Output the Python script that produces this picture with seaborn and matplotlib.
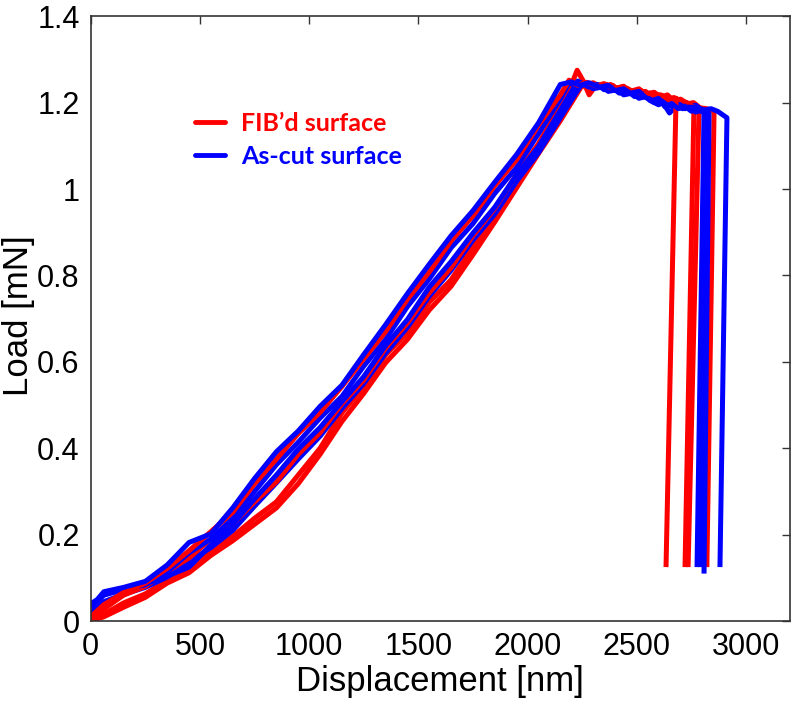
import numpy as np
import pandas as pd
import matplotlib
matplotlib.use("Agg")
import matplotlib.pyplot as plt
import seaborn as sns
from matplotlib.lines import Line2D
from matplotlib.ticker import FormatStrFormatter

# load-displacement curves (displacement in nm, load in mN)
fib_a_x = [0, 60, 150, 250, 350, 450, 550, 650, 750, 850, 950, 1050, 1150, 1250, 1350, 1450, 1550, 1650, 1750, 1850, 1950, 2050, 2150, 2190,
           2230, 2270, 2320, 2360, 2390, 2430, 2460, 2500, 2530, 2560, 2590, 2620, 2650, 2680, 2634]
fib_a_y = [0.01, 0.038, 0.066, 0.088, 0.122, 0.163, 0.207, 0.252, 0.318, 0.375, 0.434, 0.483, 0.543, 0.607, 0.67, 0.745, 0.808, 0.88, 0.938, 1.008, 1.068, 1.148, 1.218, 1.252,
           1.24, 1.247, 1.238, 1.242, 1.232, 1.236, 1.226, 1.228, 1.218, 1.222, 1.212, 1.216, 1.205, 1.21, 0.125]

fib_b_x = [0, 60, 150, 250, 350, 450, 550, 650, 750, 850, 950, 1050, 1150, 1250, 1350, 1450, 1550, 1650, 1750, 1850, 1950, 2050, 2150, 2200, 2227,
           2255, 2282, 2310, 2350, 2400, 2440, 2470, 2510, 2540, 2580, 2610, 2640, 2670, 2700, 2740, 2762, 2721]
fib_b_y = [0.005, 0.028, 0.06, 0.08, 0.115, 0.146, 0.19, 0.225, 0.276, 0.322, 0.386, 0.436, 0.503, 0.558, 0.632, 0.69, 0.76, 0.818, 0.892, 0.955, 1.034, 1.105, 1.192, 1.24, 1.275,
           1.25, 1.218, 1.238, 1.244, 1.232, 1.238, 1.226, 1.232, 1.22, 1.224, 1.212, 1.218, 1.204, 1.208, 1.196, 1.19, 0.125]

fib_c_x = [0, 60, 150, 250, 350, 450, 550, 650, 750, 850, 950, 1050, 1150, 1250, 1350, 1450, 1550, 1650, 1750, 1850, 1950, 2050, 2150, 2235,
           2280, 2320, 2350, 2390, 2420, 2460, 2500, 2540, 2570, 2610, 2640, 2670, 2700, 2730, 2760, 2785, 2735]
fib_c_y = [0.0, 0.016, 0.042, 0.063, 0.094, 0.12, 0.162, 0.196, 0.238, 0.276, 0.338, 0.4, 0.482, 0.543, 0.616, 0.668, 0.738, 0.79, 0.866, 0.936, 1.022, 1.094, 1.178, 1.245,
           1.232, 1.242, 1.236, 1.24, 1.228, 1.232, 1.22, 1.226, 1.214, 1.218, 1.205, 1.212, 1.198, 1.2, 1.19, 1.185, 0.125]

fib_d_x = [0, 60, 150, 250, 350, 450, 550, 650, 750, 850, 950, 1050, 1150, 1250, 1350, 1450, 1550, 1650, 1750, 1850, 1950, 2050, 2150, 2250,
           2300, 2340, 2380, 2420, 2450, 2490, 2520, 2560, 2600, 2640, 2680, 2720, 2760, 2790, 2820, 2854, 2821]
fib_d_y = [0.0, 0.01, 0.032, 0.055, 0.088, 0.112, 0.152, 0.186, 0.224, 0.262, 0.318, 0.386, 0.462, 0.527, 0.598, 0.652, 0.72, 0.775, 0.848, 0.924, 1.003, 1.082, 1.158, 1.24,
           1.246, 1.236, 1.242, 1.228, 1.234, 1.222, 1.228, 1.214, 1.218, 1.204, 1.21, 1.196, 1.2, 1.188, 1.186, 1.18, 0.125]

cut_a_x = [0, 30, 60, 150, 250, 350, 450, 550, 650, 750, 850, 950, 1050, 1150, 1250, 1350, 1450, 1550, 1650, 1750, 1850, 1950, 2050, 2150,
           2200, 2240, 2280, 2330, 2370, 2400, 2440, 2470, 2510, 2540, 2570, 2600, 2630, 2660, 2690, 2720, 2750, 2780, 2808, 2776]
cut_a_y = [0.04, 0.05, 0.068, 0.078, 0.092, 0.13, 0.182, 0.202, 0.262, 0.33, 0.392, 0.44, 0.497, 0.546, 0.617, 0.686, 0.758, 0.826, 0.892, 0.95, 1.016, 1.08, 1.153, 1.242,
           1.248, 1.24, 1.246, 1.236, 1.24, 1.228, 1.232, 1.222, 1.226, 1.212, 1.205, 1.21, 1.19, 1.198, 1.186, 1.192, 1.18, 1.186, 1.18, 0.125]

cut_b_x = [0, 30, 60, 150, 250, 350, 450, 550, 650, 750, 850, 950, 1050, 1150, 1250, 1350, 1450, 1550, 1650, 1750, 1850, 1950, 2050, 2150, 2230,
           2280, 2320, 2350, 2390, 2420, 2460, 2490, 2530, 2560, 2600, 2620, 2650, 2680, 2710, 2740, 2770, 2800, 2831, 2808]
cut_b_y = [0.03, 0.045, 0.06, 0.073, 0.086, 0.104, 0.125, 0.176, 0.224, 0.283, 0.338, 0.398, 0.448, 0.508, 0.566, 0.638, 0.698, 0.773, 0.832, 0.898, 0.958, 1.033, 1.098, 1.182, 1.25,
           1.236, 1.242, 1.23, 1.234, 1.222, 1.226, 1.214, 1.22, 1.205, 1.195, 1.2, 1.176, 1.192, 1.186, 1.19, 1.178, 1.185, 1.175, 0.11]

cut_c_x = [0, 30, 60, 150, 250, 350, 450, 550, 650, 750, 850, 950, 1050, 1150, 1250, 1350, 1450, 1550, 1650, 1750, 1850, 1950, 2050, 2150, 2250,
           2310, 2350, 2380, 2420, 2450, 2490, 2520, 2560, 2590, 2630, 2660, 2700, 2730, 2770, 2800, 2840, 2870, 2913, 2881]
cut_c_y = [0.02, 0.03, 0.045, 0.062, 0.078, 0.102, 0.138, 0.17, 0.21, 0.266, 0.32, 0.375, 0.428, 0.492, 0.55, 0.62, 0.68, 0.752, 0.812, 0.882, 0.942, 1.018, 1.084, 1.165, 1.245,
           1.238, 1.242, 1.23, 1.234, 1.22, 1.226, 1.214, 1.218, 1.205, 1.21, 1.196, 1.2, 1.19, 1.194, 1.182, 1.186, 1.18, 1.165, 0.125]

cut_d_x = [0, 30, 60, 150, 250, 350, 450, 550, 650, 750, 850, 950, 1050, 1150, 1250, 1350, 1450, 1550, 1650, 1750, 1850, 1950, 2050, 2150, 2190,
           2240, 2270, 2300, 2340, 2370, 2410, 2440, 2480, 2510, 2550, 2580, 2620, 2650, 2690, 2720, 2760, 2790, 2817, 2790]
cut_d_y = [0.035, 0.048, 0.062, 0.073, 0.084, 0.114, 0.158, 0.19, 0.238, 0.3, 0.362, 0.414, 0.47, 0.52, 0.59, 0.652, 0.728, 0.792, 0.864, 0.92, 0.99, 1.05, 1.128, 1.208, 1.245,
           1.238, 1.244, 1.232, 1.236, 1.226, 1.23, 1.218, 1.222, 1.21, 1.215, 1.2, 1.206, 1.192, 1.196, 1.186, 1.19, 1.18, 1.178, 0.125]

x_ticks = [0, 500, 1000, 1500, 2000, 2500, 3000]
y_ticks = [0, 0.2, 0.4, 0.6, 0.8, 1.0, 1.2, 1.4]


def make_frame():
    runs = [("FIB'd", "f4", fib_d_x, fib_d_y), ("FIB'd", "f3", fib_c_x, fib_c_y),
            ("As-cut", "c3", cut_c_x, cut_c_y), ("FIB'd", "f2", fib_b_x, fib_b_y),
            ("As-cut", "c2", cut_b_x, cut_b_y), ("As-cut", "c4", cut_d_x, cut_d_y),
            ("FIB'd", "f1", fib_a_x, fib_a_y), ("As-cut", "c1", cut_a_x, cut_a_y)]
    rows = []
    for surf, run, xs, ys in runs:
        for x, y in zip(xs, ys):
            rows.append({"surface": surf, "run": run, "disp": x, "load": y})
    return pd.DataFrame(rows)


def plot_data():
    sns.set_style("white")
    plt.rcParams['font.family'] = ['Liberation Sans', 'DejaVu Sans']
    plt.rcParams['text.color'] = 'black'
    plt.rcParams['axes.labelcolor'] = 'black'
    colors = {"FIB'd": "#ff0000", "As-cut": "#0000ff"}

    df = make_frame()
    fig, ax = plt.subplots(figsize=(7.96, 7.05), dpi=100)
    fig.subplots_adjust(left=0.114, right=0.992, top=0.977, bottom=0.119)

    for run in df.run.unique():
        d = df[df.run == run]
        sns.lineplot(data=d, x="disp", y="load", sort=False, estimator=None,
                     color=colors[d.surface.iloc[0]], linewidth=3.6,
                     solid_capstyle="butt", solid_joinstyle="round", ax=ax)

    ax.set_xlim(0, 3200)
    ax.set_ylim(0, 1.4)
    ax.set_xticks(x_ticks)
    ax.set_yticks(y_ticks)
    ax.yaxis.set_major_formatter(FormatStrFormatter('%g'))
    ax.tick_params(direction="in", length=6, width=1, labelsize=22, top=True, right=True,
                   colors="#333333", labelcolor="black", pad=8)
    for s in ax.spines.values():
        s.set_color("#333333")
        s.set_linewidth(1.2)
    ax.set_xlabel("Displacement [nm]", fontsize=25, labelpad=2, color="black")
    ax.set_ylabel("Load [mN]", fontsize=25, color="black")
    ax.yaxis.set_label_coords(-0.08, 0.505)

    handles = [Line2D([0], [0], color="#ff0000", lw=3.5, label="FIB\u2019d surface"),
               Line2D([0], [0], color="#0000ff", lw=3.5, label="As-cut surface")]
    ax.legend(handles=handles, loc="upper left", bbox_to_anchor=(0.149, 0.842), frameon=False,
              borderpad=0, borderaxespad=0, handlelength=1.2, handletextpad=0.65,
              labelspacing=0.4, labelcolor="linecolor",
              prop={"family": ["Lato", "DejaVu Sans"], "weight": "bold", "size": 18})

    plt.savefig("out.png", dpi=100)


if __name__ == "__main__":
    plot_data()
